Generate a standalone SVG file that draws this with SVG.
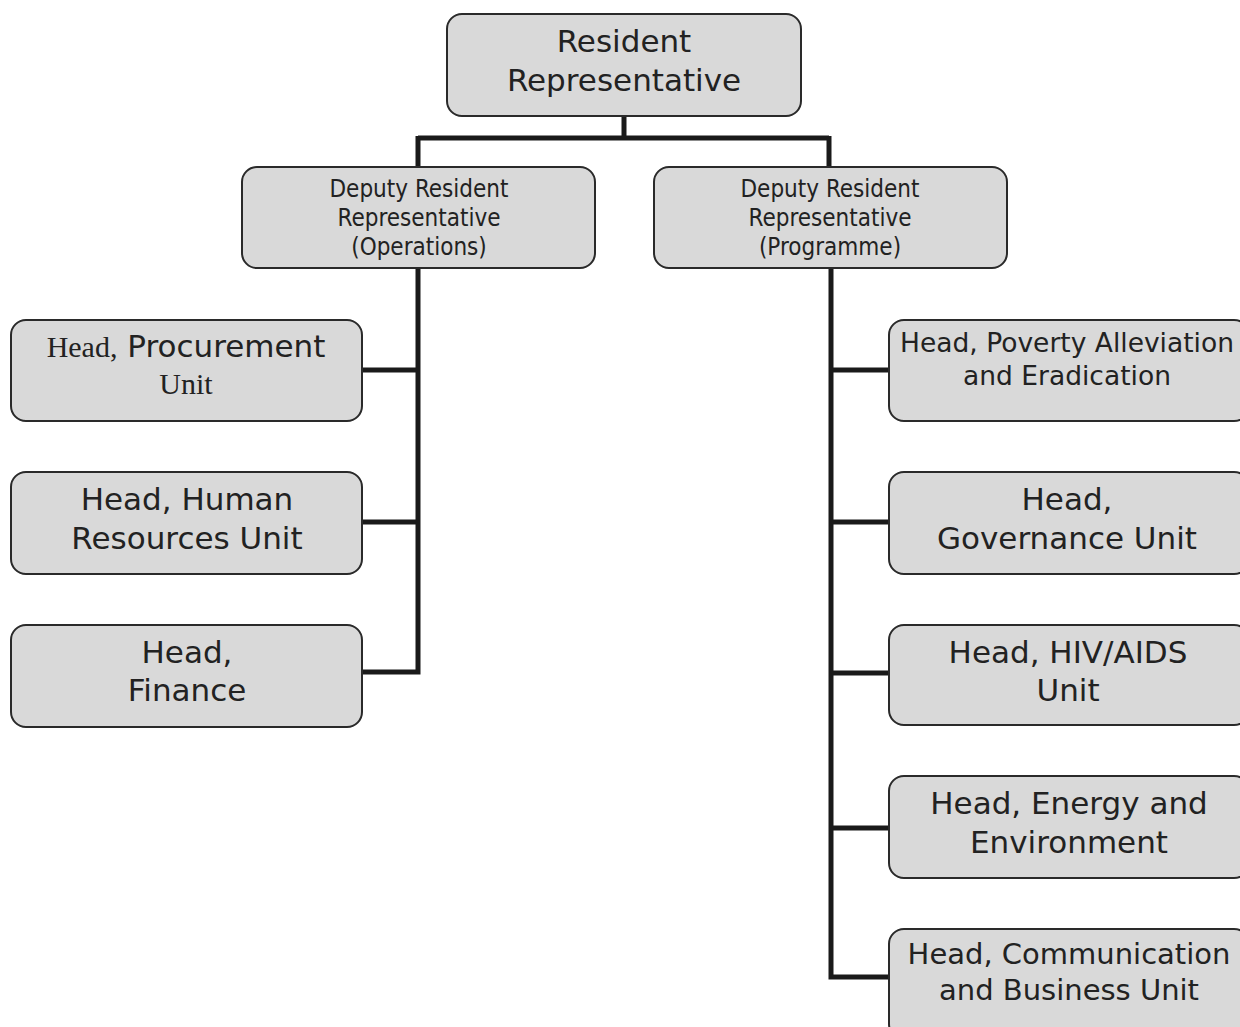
<svg xmlns="http://www.w3.org/2000/svg" width="1240" height="1027" viewBox="0 0 1240 1027">
<style>
.box{fill:#d9d9d9;stroke:#2a2a2a;stroke-width:2}
.t{font-family:"DejaVu Sans",Verdana,sans-serif;fill:#222;text-anchor:middle}
.d{font-family:"DejaVu Sans Condensed","DejaVu Sans",sans-serif;font-stretch:condensed;font-size:24px}
.s{font-family:"Liberation Serif","Times New Roman",serif}
.c{fill:none;stroke:#1a1a1a;stroke-width:5}
</style>
<rect width="1240" height="1027" fill="#fff"/>
<g id="connectors">
<path class="c" d="M624,116 V138 M418,138 H829 M418,136 V167 M829,136 V167"/>
<path class="c" d="M418,268 V672 H362 M362,370 H418 M362,522 H418"/>
<path class="c" d="M831,268 V977 H889 M831,370 H889 M831,522 H889 M831,673 H889 M831,828 H889"/>
</g>
<g id="resident">
<rect class="box" x="447" y="14" width="354" height="102" rx="15"/>
<text class="t" font-size="31" x="624" y="52">Resident</text>
<text class="t" font-size="31" x="624" y="91">Representative</text>
</g>
<g id="deputy-ops">
<rect class="box" x="242" y="167" width="353" height="101" rx="15"/>
<text class="t d" x="419" y="197">Deputy Resident</text>
<text class="t d" x="419" y="226">Representative</text>
<text class="t d" x="419" y="255">(Operations)</text>
</g>
<g id="deputy-prog">
<rect class="box" x="654" y="167" width="353" height="101" rx="15"/>
<text class="t d" x="830" y="197">Deputy Resident</text>
<text class="t d" x="830" y="226">Representative</text>
<text class="t d" x="830" y="255">(Programme)</text>
</g>
<g id="procurement">
<rect class="box" x="11" y="320" width="351" height="101" rx="15"/>
<text class="t" font-size="31" x="186" y="357"><tspan class="s" font-size="30">Head,</tspan> Procurement</text>
<text class="t s" font-size="30" x="186" y="394">Unit</text>
</g>
<g id="hr">
<rect class="box" x="11" y="472" width="351" height="102" rx="15"/>
<text class="t" font-size="31" x="187" y="510">Head, Human</text>
<text class="t" font-size="31" x="187" y="549">Resources Unit</text>
</g>
<g id="finance">
<rect class="box" x="11" y="625" width="351" height="102" rx="15"/>
<text class="t" font-size="31" x="187" y="663">Head,</text>
<text class="t" font-size="31" x="187" y="701">Finance</text>
</g>
<g id="poverty">
<rect class="box" x="889" y="320" width="360" height="101" rx="15"/>
<text class="t" font-size="26.5" x="1067" y="352">Head, Poverty Alleviation</text>
<text class="t" font-size="26.5" x="1067" y="385">and Eradication</text>
</g>
<g id="governance">
<rect class="box" x="889" y="472" width="360" height="102" rx="15"/>
<text class="t" font-size="31" x="1067" y="510">Head,</text>
<text class="t" font-size="31" x="1067" y="549">Governance Unit</text>
</g>
<g id="hiv">
<rect class="box" x="889" y="625" width="360" height="100" rx="15"/>
<text class="t" font-size="31" x="1068" y="663">Head, HIV/AIDS</text>
<text class="t" font-size="31" x="1068" y="701">Unit</text>
</g>
<g id="energy">
<rect class="box" x="889" y="776" width="360" height="102" rx="15"/>
<text class="t" font-size="31" x="1069" y="814">Head, Energy and</text>
<text class="t" font-size="31" x="1069" y="853">Environment</text>
</g>
<g id="communication">
<rect class="box" x="889" y="929" width="360" height="110" rx="15"/>
<text class="t" font-size="29" x="1069" y="964">Head, Communication</text>
<text class="t" font-size="29" x="1069" y="1000">and Business Unit</text>
</g>
</svg>
